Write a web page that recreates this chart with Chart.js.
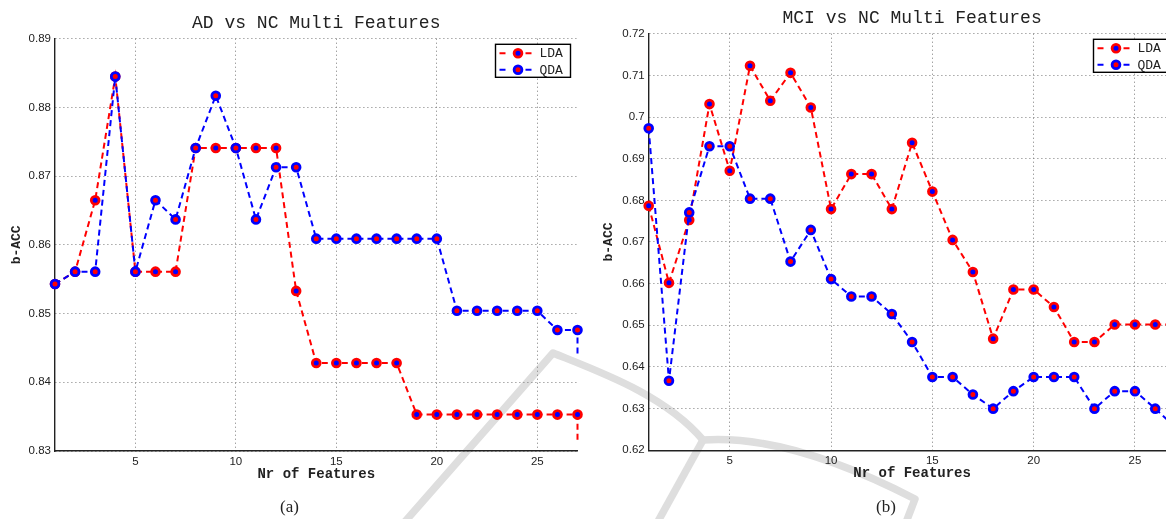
<!DOCTYPE html>
<html>
<head>
<meta charset="utf-8">
<script src="https://cdn.jsdelivr.net/npm/chart.js@4"></script>
<style>
body { margin:0; width:1166px; height:519px; overflow:hidden; background:#fff; position:relative; }
.box { position:absolute; top:0; }
.mark { position:absolute; left:0; top:0; }
.cap { position:absolute; top:497px; font-family:'Liberation Serif', serif; font-size:17px; color:#222; }
</style>
</head>
<body>
<svg class="mark" width="1166" height="519">
  <g fill="none" stroke="#dedede" stroke-width="7.5" stroke-linejoin="round">
    <path d="M 402 525 L 553 353 C 600 372, 665 395, 703 440"/>
    <path d="M 703 440 L 656 525"/>
    <path d="M 703 440 C 760 436, 830 455, 915 499 L 905 525"/>
  </g>
</svg>
<div class="box" style="left:0"><canvas id="adChart" width="590" height="519"></canvas></div>
<div class="box" style="left:592px"><canvas id="mciChart" width="600" height="519"></canvas></div>
<div class="cap" style="left:280px">(a)</div>
<div class="cap" style="left:876px">(b)</div>
<script>
var features = [1,2,3,4,5,6,7,8,9,10,11,12,13,14,15,16,17,18,19,20,21,22,23,24,25,26,27];
var xTicks = [5,10,15,20,25];

var adLda = [0.8543,0.8561,0.8665,0.8845,0.8561,0.8561,0.8561,0.8741,0.8741,0.8741,0.8741,0.8741,0.8533,
  0.8428,0.8428,0.8428,0.8428,0.8428,0.8353,0.8353,0.8353,0.8353,0.8353,0.8353,0.8353,0.8353,0.8353];
var adQda = [0.8543,0.8561,0.8561,0.8845,0.8561,0.8665,0.8637,0.8741,0.8817,0.8741,0.8637,0.8713,0.8713,
  0.8609,0.8609,0.8609,0.8609,0.8609,0.8609,0.8609,0.8504,0.8504,0.8504,0.8504,0.8504,0.8476,0.8476];
// the lines run on past the last feature and get cut at the axis
var adLdaTail = [0.8313];
var adQdaTail = [0.8437];
var adYTicks = [0.83,0.84,0.85,0.86,0.87,0.88,0.89];

var mciLda = [0.6787,0.6602,0.6753,0.7031,0.6871,0.7123,0.7039,0.7106,0.7023,0.6779,0.6863,0.6863,0.6779,
  0.6938,0.6821,0.6705,0.6628,0.6468,0.6586,0.6586,0.6544,0.6460,0.6460,0.6502,0.6502,0.6502,0.6502];
var mciQda = [0.6973,0.6367,0.6771,0.6930,0.6930,0.6804,0.6804,0.6653,0.6729,0.6611,0.6569,0.6569,0.6527,
  0.6460,0.6376,0.6376,0.6334,0.6300,0.6342,0.6376,0.6376,0.6376,0.6300,0.6342,0.6342,0.6300,0.6255];
var mciYTicks = [0.62,0.63,0.64,0.65,0.66,0.67,0.68,0.69,0.70,0.71,0.72];

Chart.defaults.font.family = "'Liberation Sans', Arial, sans-serif";
Chart.defaults.color = '#222';

function series(xs, ys, tail){
    var pts = xs.map(function(x, i){ return {x: x, y: ys[i]}; });
    tail.forEach(function(v){ pts.push({x: xs[xs.length - 1], y: v}); });
    return pts;
}

function lineSet(label, data, ring, fill, order){
    return {
        label: label,
        data: data,
        order: order,
        borderColor: ring,
        borderWidth: 2,
        borderDash: [6,4],
        tension: 0,
        clip: false,
        pointBackgroundColor: fill,
        pointBorderColor: ring,
        pointBorderWidth: 2.8,
        pointRadius: function(c){ return c.dataIndex < features.length ? 3.9 : 0; }
    };
}

var boxLegend = {
    id: 'boxLegend',
    afterDraw: function(chart){
        var ctx = chart.ctx, a = chart.chartArea;
        var w = 75, h = 33, x = a.right - 7 - w, y = a.top + 5.6;
        ctx.save();
        ctx.fillStyle = '#fff';
        ctx.fillRect(x, y, w, h);
        ctx.strokeStyle = '#000';
        ctx.lineWidth = 1.4;
        ctx.strokeRect(x, y, w, h);
        chart.data.datasets.forEach(function(ds, i){
            var ly = y + 9 + i * 16.5;
            ctx.strokeStyle = ds.borderColor;
            ctx.lineWidth = 2;
            ctx.beginPath();
            ctx.moveTo(x + 4, ly); ctx.lineTo(x + 10, ly);
            ctx.moveTo(x + 30, ly); ctx.lineTo(x + 36, ly);
            ctx.stroke();
            ctx.beginPath();
            ctx.arc(x + 22.5, ly, 3.9, 0, Math.PI * 2);
            ctx.fillStyle = ds.pointBackgroundColor;
            ctx.fill();
            ctx.lineWidth = 2.8;
            ctx.strokeStyle = ds.pointBorderColor;
            ctx.stroke();
            ctx.fillStyle = '#222';
            ctx.font = "13px 'Liberation Mono', monospace";
            ctx.textBaseline = 'middle';
            ctx.fillText(ds.label, x + 44, ly + 0.5);
        });
        ctx.restore();
    }
};

function makeChart(id, title, lda, qda, ldaTail, qdaTail, yTicks, pad){
    return new Chart(document.getElementById(id), {
        type: 'line',
        data: {
            datasets: [
                lineSet('LDA', series(features, lda, ldaTail), '#ff0000', '#0000ff', 1),
                lineSet('QDA', series(features, qda, qdaTail), '#0000ff', '#ff0000', 0)
            ]
        },
        options: {
            responsive: false,
            animation: false,
            layout: { padding: { top: pad.top, right: pad.right, bottom: pad.bottom, left: 0 } },
            plugins: {
                legend: { display: false },
                tooltip: { enabled: false },
                title: {
                    display: true,
                    text: title,
                    fullSize: false,
                    color: '#222',
                    font: { family: "'Liberation Mono', monospace", size: 18, weight: 'normal' },
                    padding: { top: 0, bottom: 4.6 }
                }
            },
            scales: {
                x: {
                    type: 'linear',
                    min: 1,
                    max: 27,
                    afterBuildTicks: function(s){ s.ticks = xTicks.map(function(v){ return {value: v}; }); },
                    afterFit: function(s){ s.height = 35; },
                    grid: { color: '#7a7a7a', lineWidth: 1, drawTicks: false },
                    border: { color: '#222', width: 1.4, dash: [1,3] },
                    ticks: { padding: 4, font: { size: 11.5 }, color: '#222', maxRotation: 0 },
                    title: {
                        display: true,
                        text: 'Nr of Features',
                        color: '#222',
                        font: { family: "'Liberation Mono', monospace", size: 14, weight: 'bold' },
                        padding: { top: 0, bottom: 3.6 }
                    }
                },
                y: {
                    min: yTicks[0],
                    max: yTicks[yTicks.length - 1],
                    afterBuildTicks: function(s){ s.ticks = yTicks.map(function(v){ return {value: v}; }); },
                    afterFit: function(s){ s.width = pad.left; },
                    grid: { color: '#7a7a7a', lineWidth: 1, drawTicks: false },
                    border: { color: '#222', width: 1.4, dash: [1,3] },
                    ticks: {
                        padding: 4,
                        font: { size: 11.5 },
                        color: '#222',
                        callback: function(v){ return String(+v.toFixed(2)); }
                    },
                    title: {
                        display: true,
                        text: 'b-ACC',
                        color: '#222',
                        font: { family: "'Liberation Mono', monospace", size: 13, weight: 'bold' },
                        padding: { top: 9, bottom: 0 }
                    }
                }
            }
        },
        plugins: [boxLegend]
    });
}

makeChart('adChart', 'AD vs NC Multi Features', adLda, adQda, adLdaTail, adQdaTail, adYTicks,
    { top: 12.5, right: 12.5, bottom: 33, left: 55 });
makeChart('mciChart', 'MCI vs NC Multi Features', mciLda, mciQda, [], [], mciYTicks,
    { top: 7.5, right: 16.5, bottom: 33.7, left: 56.7 });
</script>
</body>
</html>
